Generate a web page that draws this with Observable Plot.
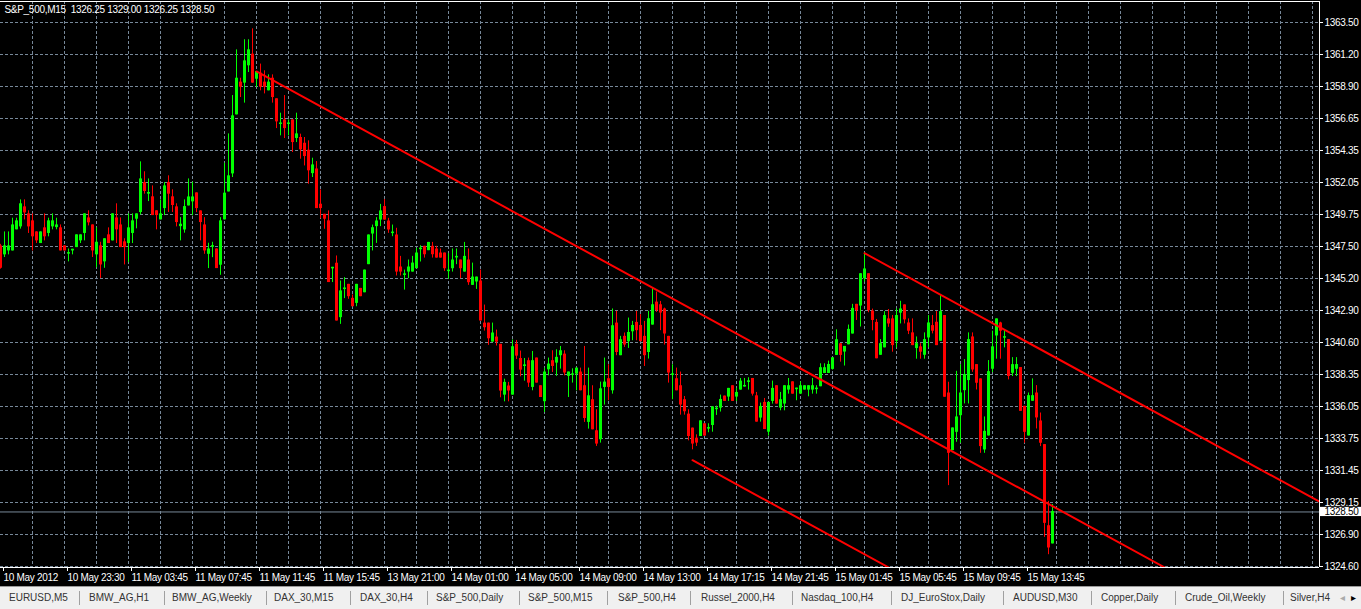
<!DOCTYPE html>
<html>
<head>
<meta charset="utf-8">
<script src="https://cdn.jsdelivr.net/npm/d3@7"></script>
<script src="https://cdn.jsdelivr.net/npm/@observablehq/plot@0.6"></script>
<style>
  html, body { margin: 0; padding: 0; background: #000; width: 1361px; height: 609px; overflow: hidden; }
  #chart { width: 1361px; height: 586px; }
  #chart svg { display: block; }
  #tabs { position: relative; width: 1361px; height: 22px; background: #f0f0f0; border-top: 1px solid #9a9a9a;
          font-family: "Liberation Sans", Arial, sans-serif; font-size: 10px; color: #333; }
  #tabs .t { position: absolute; top: 0; line-height: 21px; white-space: nowrap; }
  #tabs .s { position: absolute; top: 4px; width: 1px; height: 14px; background: #a0a0a0; }
</style>
</head>
<body>
<div id="chart"></div>
<div id="tabs"></div>
<script>
// ---------------- data ----------------
const symbol = "S&P_500,M15";

const open = [
1347.49,1346.92,1347.20,1347.20,1348.71,1348.92,1350.28,1349.78,1349.28,1348.49,
1347.73,1348.78,1348.45,1348.92,1348.87,1348.78,1347.49,1346.97,1347.20,1347.44,
1347.92,1348.45,1349.49,1348.99,1346.92,1347.49,1346.42,1348.28,1347.92,1349.49,
1348.99,1347.78,1347.73,1348.45,1349.47,1349.95,1352.02,1351.26,1351.00,1350.00,
1349.42,1350.23,1352.02,1351.00,1350.28,1348.94,1348.70,1350.42,1350.71,1351.28,
1349.99,1348.99,1346.96,1347.46,1347.27,1346.18,1349.42,1351.42,1352.71,1356.93,
1359.20,1359.20,1360.44,1361.20,1359.48,1359.84,1359.20,1358.65,1359.48,1358.01,
1356.24,1356.50,1356.24,1356.50,1355.24,1355.24,1354.83,1354.33,1352.73,1352.99,
1350.47,1349.75,1349.28,1345.92,1346.25,1342.43,1344.44,1344.74,1343.74,1343.45,
1344.45,1344.21,1346.22,1348.41,1348.94,1349.41,1350.30,1349.27,1348.44,1348.27,
1345.98,1345.45,1345.69,1345.69,1345.93,1347.29,1347.46,1347.22,1347.46,1347.27,
1346.98,1346.98,1345.72,1345.93,1346.70,1346.48,1345.69,1346.48,1344.74,1344.98,
1344.98,1341.97,1341.97,1340.68,1340.97,1340.45,1336.89,1337.47,1336.89,1340.45,
1339.44,1338.94,1339.28,1337.44,1339.47,1337.49,1336.42,1338.70,1339.28,1339.18,
1339.71,1339.75,1338.23,1338.30,1338.39,1338.47,1337.49,1334.94,1336.49,1334.27,
1333.70,1337.44,1337.99,1337.20,1341.97,1339.71,1341.02,1340.71,1341.42,1342.02,
1341.80,1341.02,1339.94,1341.90,1343.47,1343.28,1342.98,1341.02,1338.30,1337.99,
1337.49,1336.49,1335.46,1334.46,1333.74,1333.93,1334.77,1334.46,1334.72,1335.85,
1335.96,1336.75,1336.75,1337.49,1336.75,1337.25,1337.47,1337.80,1338.01,1336.77,
1335.25,1336.30,1334.24,1336.44,1337.49,1335.96,1336.25,1337.25,1337.77,1337.28,
1336.96,1337.25,1337.25,1337.25,1337.28,1337.49,1338.44,1338.44,1338.73,1339.73,
1340.49,1339.97,1340.49,1341.26,1343.31,1343.26,1345.21,1345.50,1342.83,1342.02,
1339.74,1340.27,1342.27,1342.27,1340.74,1342.75,1343.27,1341.98,1341.27,1340.22,
1340.27,1339.74,1340.98,1341.79,1342.03,1340.74,1342.51,1336.97,1332.92,1334.23,
1335.42,1337.21,1337.93,1340.98,1339.00,1337.98,1332.97,1333.97,1338.74,1341.12,
1341.98,1340.96,1340.79,1338.45,1338.74,1338.79,1336.02,1333.97,1336.45,1336.97,
1334.97,1333.28,1327.48,1326.25
];
const high = [
1347.60,1348.49,1348.49,1349.47,1349.47,1350.78,1350.78,1350.00,1349.78,1348.50,
1348.49,1349.78,1349.47,1349.78,1349.47,1348.99,1347.49,1347.27,1347.25,1348.28,
1348.28,1349.78,1350.00,1348.99,1348.78,1347.75,1348.00,1348.78,1349.78,1350.50,
1349.49,1348.00,1349.78,1349.78,1349.78,1353.50,1352.79,1352.28,1351.78,1350.00,
1350.78,1352.02,1352.50,1351.50,1350.50,1349.51,1350.78,1352.28,1352.04,1351.28,
1349.99,1349.51,1347.68,1347.75,1347.27,1349.51,1353.40,1355.50,1358.24,1361.51,
1359.48,1362.23,1362.23,1363.01,1359.96,1360.49,1360.01,1359.72,1359.72,1358.01,
1356.98,1358.24,1356.50,1356.50,1356.98,1355.48,1355.24,1355.00,1353.76,1353.52,
1351.49,1349.75,1349.99,1345.96,1346.77,1344.98,1345.22,1344.74,1343.98,1344.74,
1344.45,1345.76,1348.27,1348.98,1349.51,1350.46,1350.80,1349.46,1348.98,1348.75,
1346.74,1345.76,1346.48,1346.74,1347.31,1347.50,1347.46,1347.74,1347.74,1347.46,
1347.27,1346.98,1346.93,1347.27,1347.27,1346.48,1347.74,1347.27,1346.26,1345.26,
1345.76,1343.26,1341.97,1341.97,1341.47,1340.45,1337.96,1337.73,1340.76,1340.73,
1339.97,1339.44,1339.47,1339.94,1339.47,1337.49,1338.75,1339.47,1339.99,1340.06,
1340.30,1339.99,1338.47,1338.70,1338.75,1338.75,1340.30,1338.75,1337.49,1335.77,
1337.75,1339.47,1338.99,1342.98,1342.81,1341.02,1341.26,1342.33,1342.09,1342.81,
1342.57,1342.09,1342.81,1344.48,1344.19,1343.52,1343.04,1341.02,1338.99,1338.75,
1338.47,1336.72,1335.77,1334.46,1333.98,1334.98,1334.77,1334.77,1335.98,1336.03,
1336.82,1336.75,1337.30,1337.49,1337.30,1338.01,1338.01,1338.06,1338.01,1337.01,
1336.25,1336.58,1336.30,1337.82,1337.49,1337.01,1337.49,1338.01,1337.77,1337.32,
1337.77,1337.49,1337.49,1338.01,1337.49,1339.06,1339.06,1339.25,1339.49,1341.49,
1340.49,1340.30,1341.83,1343.31,1343.31,1345.50,1347.00,1345.50,1342.97,1342.23,
1340.79,1342.79,1342.94,1342.51,1342.98,1343.53,1343.27,1342.27,1342.27,1340.98,
1340.50,1341.27,1342.51,1342.51,1342.79,1343.94,1342.51,1337.74,1334.47,1338.52,
1339.00,1339.36,1341.27,1341.27,1339.00,1337.98,1335.26,1339.29,1341.39,1342.27,
1342.03,1341.51,1340.79,1339.50,1339.50,1338.79,1336.02,1336.97,1337.98,1337.50,
1335.54,1333.28,1329.22,1329.00
];
const low = [
1345.90,1346.73,1346.92,1347.20,1348.71,1348.76,1349.42,1348.45,1347.20,1347.73,
1347.73,1347.92,1348.21,1348.71,1348.71,1347.20,1347.20,1346.42,1346.92,1347.44,
1347.73,1347.92,1348.99,1346.73,1346.00,1345.23,1345.96,1347.73,1347.92,1347.73,
1347.44,1346.20,1346.37,1347.73,1348.78,1349.78,1351.26,1350.73,1349.73,1348.71,
1349.42,1349.73,1349.95,1349.95,1348.92,1347.92,1348.47,1350.42,1349.71,1349.94,
1347.92,1346.96,1345.94,1346.72,1345.94,1345.46,1349.42,1351.42,1352.45,1356.93,
1358.17,1357.77,1359.96,1359.20,1358.89,1358.65,1358.43,1358.65,1357.77,1355.95,
1355.43,1355.24,1355.43,1354.24,1354.95,1353.76,1353.28,1351.97,1352.45,1350.23,
1349.51,1348.75,1344.94,1344.94,1342.19,1341.95,1343.79,1343.74,1343.21,1343.21,
1343.93,1344.21,1346.22,1347.20,1347.74,1348.94,1349.41,1348.46,1348.22,1345.41,
1345.41,1344.40,1345.22,1345.69,1345.93,1346.41,1346.69,1347.22,1346.69,1346.69,
1346.69,1345.74,1345.17,1345.69,1346.22,1345.22,1345.69,1344.74,1344.74,1344.45,
1342.19,1341.47,1340.45,1340.68,1340.40,1336.70,1336.41,1336.41,1336.89,1339.44,
1338.20,1337.89,1337.44,1337.20,1337.75,1336.72,1335.65,1338.27,1338.51,1338.23,
1338.75,1338.27,1336.72,1337.75,1337.20,1337.20,1334.94,1334.46,1334.41,1333.22,
1333.46,1336.18,1336.49,1336.96,1339.71,1339.71,1340.30,1340.23,1340.78,1340.78,
1340.71,1338.94,1339.47,1341.90,1342.81,1341.50,1340.47,1337.75,1336.56,1337.20,
1335.46,1335.46,1333.62,1332.98,1333.22,1333.93,1333.96,1334.20,1334.24,1335.44,
1335.68,1336.44,1336.44,1336.44,1336.44,1337.25,1337.46,1337.25,1336.82,1334.96,
1334.96,1334.43,1333.96,1336.25,1336.25,1335.77,1335.77,1336.96,1336.96,1336.49,
1336.96,1337.25,1336.77,1336.96,1336.96,1337.49,1338.44,1338.44,1338.68,1339.73,
1339.25,1338.97,1340.49,1341.26,1342.23,1341.76,1344.98,1342.78,1341.49,1339.49,
1339.74,1340.27,1341.74,1339.96,1340.27,1341.98,1341.98,1341.22,1340.43,1339.46,
1339.46,1339.46,1340.27,1341.27,1340.43,1340.74,1336.74,1330.42,1332.92,1333.52,
1333.45,1336.26,1336.26,1338.52,1337.26,1332.73,1332.73,1333.97,1338.50,1339.46,
1339.46,1340.27,1337.98,1338.22,1338.22,1335.73,1333.45,1333.97,1336.45,1334.47,
1333.21,1326.72,1325.48,1326.25
];
const close = [
1345.96,1347.49,1347.49,1348.99,1349.28,1350.50,1349.92,1348.92,1348.21,1347.92,
1348.49,1348.21,1349.28,1349.28,1348.99,1347.20,1347.20,1347.01,1347.25,1348.28,
1348.28,1349.78,1349.21,1347.20,1347.75,1346.20,1348.00,1347.73,1349.78,1348.71,
1347.44,1347.44,1348.78,1349.28,1349.78,1352.28,1351.45,1351.31,1349.73,1349.73,
1349.78,1351.78,1351.26,1350.45,1349.23,1349.04,1350.30,1350.99,1350.99,1350.23,
1349.23,1347.20,1347.27,1347.51,1345.94,1349.28,1351.26,1352.50,1356.79,1359.48,
1358.91,1360.72,1361.51,1359.20,1359.96,1358.91,1358.91,1359.20,1358.17,1356.43,
1356.28,1355.95,1356.28,1354.95,1355.50,1354.43,1353.95,1352.93,1353.28,1350.23,
1350.23,1349.47,1344.94,1345.96,1342.19,1344.27,1344.48,1343.93,1343.21,1344.74,
1343.93,1345.76,1348.27,1348.79,1349.27,1349.99,1349.41,1348.70,1348.48,1345.69,
1345.69,1345.49,1345.98,1346.26,1346.98,1347.33,1346.93,1347.74,1346.93,1346.69,
1346.69,1345.93,1345.76,1346.48,1346.74,1345.93,1346.74,1344.93,1345.26,1345.26,
1342.19,1341.71,1340.92,1341.26,1340.68,1337.18,1337.73,1337.18,1340.28,1339.68,
1338.68,1338.98,1337.75,1339.28,1337.75,1336.72,1338.47,1339.04,1338.94,1339.52,
1339.99,1338.47,1338.47,1338.34,1338.75,1337.20,1335.22,1336.77,1334.41,1333.39,
1337.27,1337.75,1337.44,1341.78,1339.94,1340.78,1340.47,1341.30,1341.80,1341.50,
1340.71,1339.71,1342.28,1343.28,1342.93,1342.76,1341.26,1338.47,1338.34,1337.20,
1336.18,1335.70,1333.93,1333.39,1333.46,1334.98,1333.96,1334.50,1335.98,1335.89,
1336.51,1336.44,1337.30,1336.44,1337.01,1337.82,1337.51,1337.84,1336.96,1334.96,
1336.01,1334.43,1336.30,1337.30,1336.25,1336.49,1337.49,1337.49,1336.96,1337.32,
1337.49,1337.49,1337.49,1337.49,1337.32,1338.78,1338.78,1339.01,1339.49,1340.78,
1339.73,1340.30,1341.52,1343.02,1342.93,1345.50,1345.84,1342.93,1342.23,1339.49,
1340.50,1342.51,1341.98,1340.43,1342.51,1342.98,1342.27,1341.46,1340.43,1340.50,
1339.96,1340.79,1341.98,1341.46,1340.43,1342.79,1336.74,1332.73,1334.47,1335.26,
1336.97,1338.29,1340.79,1338.69,1337.74,1333.21,1334.23,1338.50,1340.27,1342.27,
1341.46,1341.00,1338.22,1339.00,1339.00,1335.73,1334.23,1336.78,1336.78,1335.26,
1333.45,1327.72,1325.96,1328.50
];

// axis labels (price labels on the right, time labels every 16 bars)
const priceLabels = ["1324.60","1326.90","1329.15","1331.45","1333.75","1336.05","1338.35","1340.60","1342.90",
                     "1345.20","1347.50","1349.75","1352.05","1354.35","1356.65","1358.90","1361.20","1363.50"];
const timeLabels = ["10 May 2012","10 May 23:30","11 May 03:45","11 May 07:45","11 May 11:45","11 May 15:45",
                    "13 May 21:00","14 May 01:00","14 May 05:00","14 May 09:00","14 May 13:00","14 May 17:15",
                    "14 May 21:45","15 May 01:45","15 May 05:45","15 May 09:45","15 May 13:45"];
const barsPerLabel = 16;
const barsPerGrid = 8;

// drawn trend channel lines: [bar index, price] end points
const lineABars = [64, 291.2],   lineAPrices = [1360.00, 1324.51];
const lineBBars = [216, 329.75], lineBPrices = [1347.00, 1329.23];
const lineCBars = [173, 222.2],  lineCPrices = [1332.20, 1324.51];

const bid = 1328.50;

// ---------------- build ----------------
const W = 1361, H = 586, mR = 42, mT = 1, mB = 19;
const plotW = W - mR;                 // 1319
const xMax = plotW / 4;               // 4 px per bar
const pLo = +priceLabels[0], pHi = +priceLabels[priceLabels.length - 1];
const pxPerPt = (32 * (priceLabels.length - 1)) / (pHi - pLo);
const yBottomPx = H - mB;             // 567
const yTickBottomPx = yBottomPx - 1;  // 566
const yMin = pLo - (yBottomPx - yTickBottomPx) / pxPerPt;
const yMax = pLo + (yTickBottomPx - mT) / pxPerPt;
const priceTicks = priceLabels.map((_, k) => pLo + k * (pHi - pLo) / (priceLabels.length - 1));
const labelBars = timeLabels.map((_, k) => k * barsPerLabel);
const gridBars = d3.range(barsPerGrid, xMax, barsPerGrid);

const bars = open.map((o, i) => ({i, o, h: high[i], l: low[i], c: close[i], up: close[i] >= o}));
const pad = 0.5 / pxPerPt;
const UP = "#00ff00", DOWN = "#ff0000", GRID = "#778899";

const toPts = (bs, ps) => bs.map((b, k) => ({b, p: ps[k]}));
const lines = [toPts(lineABars, lineAPrices), toPts(lineBBars, lineBPrices), toPts(lineCBars, lineCPrices)];

const header = `${symbol}\u00a0 ${open.at(-1).toFixed(2)} ${high.at(-1).toFixed(2)} ${low.at(-1).toFixed(2)} ${close.at(-1).toFixed(2)}`;

const chart = Plot.plot({
  width: W, height: H,
  marginLeft: 0, marginRight: mR, marginTop: mT, marginBottom: mB,
  x: {type: "linear", domain: [0, xMax], label: null},
  y: {type: "linear", domain: [yMin, yMax], label: null},
  color: {type: "identity"},
  style: {background: "#000", color: "#fff", fontFamily: "'Liberation Sans', Arial, sans-serif",
          fontSize: "10px", letterSpacing: "-0.3px", overflow: "visible"},
  marks: [
    Plot.gridY({ticks: priceTicks, stroke: GRID, strokeOpacity: 1, strokeDasharray: "3,2"}),
    Plot.gridX({ticks: gridBars, stroke: GRID, strokeOpacity: 1, strokeDasharray: "3,2"}),
    Plot.ruleY([bid], {stroke: GRID, strokeWidth: 1}),
    Plot.ruleX(bars, {x: "i", y1: d => d.l - pad, y2: d => d.h + pad, stroke: d => d.up ? UP : DOWN, strokeWidth: 1}),
    Plot.ruleX(bars, {x: "i", y1: d => Math.min(d.o, d.c) - pad, y2: d => Math.max(d.o, d.c) + pad,
                      stroke: d => d.up ? UP : DOWN, strokeWidth: 3}),
    ...lines.map(pts => Plot.line(pts, {x: "b", y: "p", stroke: "#ff0000", strokeWidth: 2, clip: true})),
    Plot.ruleY([yMax], {stroke: "#fff"}),
    Plot.ruleY([yMin], {stroke: "#fff"}),
    Plot.ruleX([xMax], {stroke: "#fff"}),
    Plot.axisY({anchor: "right", label: null, ticks: priceTicks, tickFormat: d => priceLabels[priceTicks.indexOf(d)],
                tickSize: 3, tickPadding: 2}),
    Plot.axisX({anchor: "bottom", label: null, ticks: labelBars, tickFormat: d => timeLabels[labelBars.indexOf(d)],
                tickSize: 4, tickPadding: 2, textAnchor: "start", dx: 3}),
    Plot.rect([bid], {x1: () => xMax + 0.1, x2: () => xMax + mR / 4, y1: d => d - 4.6 / pxPerPt, y2: d => d + 4.6 / pxPerPt,
                      fill: "#fff"}),
    Plot.text([bid], {x: () => xMax, y: d => d, text: d => d.toFixed(2), dx: 5, textAnchor: "start", fill: "#000"}),
    Plot.text([header], {frameAnchor: "top-left", dx: 4, dy: 4, lineAnchor: "top", textAnchor: "start", fill: "#fff"})
  ]
});
document.getElementById("chart").appendChild(chart);

// ---------------- terminal tab bar ----------------
const tabNames = ["EURUSD,M5","BMW_AG,H1","BMW_AG,Weekly","DAX_30,M15","DAX_30,H4","S&P_500,Daily","S&P_500,M15",
                  "S&P_500,H4","Russel_2000,H4","Nasdaq_100,H4","DJ_EuroStox,Daily","AUDUSD,M30","Copper,Daily",
                  "Crude_Oil,Weekly","Silver,H4"];
const tabX = [9, 89, 172, 274, 360, 436, 528, 618, 701, 801, 901, 1013, 1101, 1185, 1290];
const sepX = [79, 164, 266, 350, 427, 519, 607, 690, 792, 891, 1003, 1091, 1175, 1283];
const tabs = document.getElementById("tabs");
tabNames.forEach((n, k) => {
  const s = document.createElement("span");
  s.className = "t"; s.textContent = n; s.style.left = tabX[k] + "px";
  tabs.appendChild(s);
});
sepX.forEach(x => {
  const s = document.createElement("span");
  s.className = "s"; s.style.left = x + "px"; tabs.appendChild(s);
});
const arrL = document.createElement("span");
arrL.className = "t"; arrL.textContent = "\u25C2"; arrL.style.left = "1340px"; arrL.style.color = "#aaa";
const arrR = document.createElement("span");
arrR.className = "t"; arrR.textContent = "\u25B8"; arrR.style.left = "1351px"; arrR.style.color = "#000";
tabs.appendChild(arrL); tabs.appendChild(arrR);
</script>
</body>
</html>
